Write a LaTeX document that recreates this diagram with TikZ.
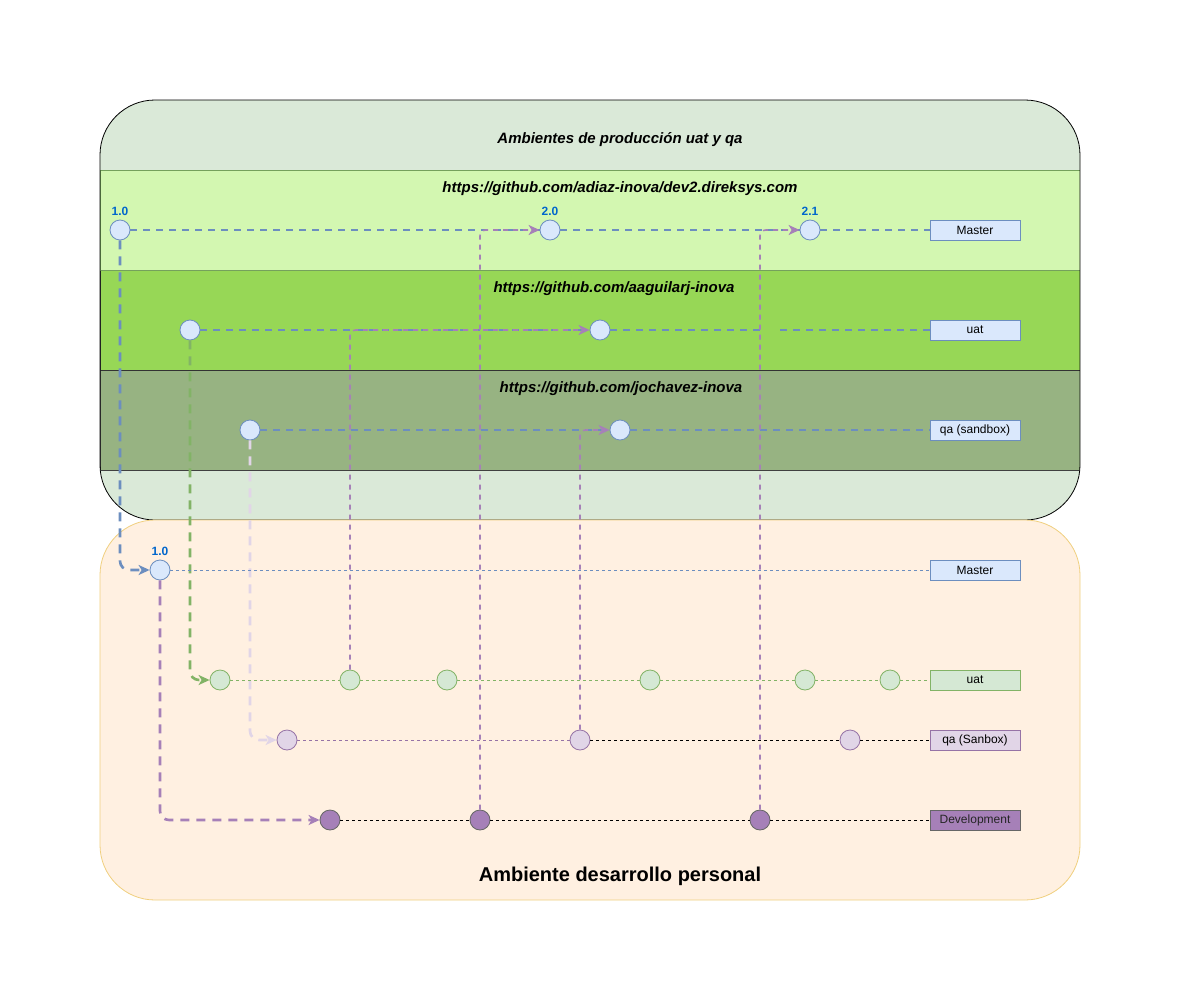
\documentclass[tikz,border=0pt]{standalone}
\usepackage{fontspec}
\setmainfont{Liberation Sans}
\usetikzlibrary{arrows.meta}
\definecolor{cTopF}{HTML}{DAE9D8}
\definecolor{cLaneA}{HTML}{D3F7B1}
\definecolor{cLaneB}{HTML}{97D756}
\definecolor{cLaneC}{HTML}{97B382}
\definecolor{cBotF}{HTML}{FFF0E1}
\definecolor{cBotD}{HTML}{F0CF7E}
\definecolor{cBlueF}{HTML}{DAE8FC}
\definecolor{cBlueD}{HTML}{6C8EBF}
\definecolor{cGreenF}{HTML}{D5E8D4}
\definecolor{cGreenD}{HTML}{82B366}
\definecolor{cPurF}{HTML}{E1D5E7}
\definecolor{cPurD}{HTML}{9673A6}
\definecolor{cPurM}{HTML}{A680B8}
\definecolor{cPurL}{HTML}{E1D5E7}
\definecolor{cVer}{HTML}{0066CC}
\begin{document}
\begin{tikzpicture}[x=1pt,y=-1pt,
  commitc/.style={circle,draw,minimum size=20pt,inner sep=0pt,line width=0.8pt},
  cblue/.style={commitc,fill=cBlueF,draw=cBlueD},
  cgreen/.style={commitc,fill=cGreenF,draw=cGreenD},
  cpur/.style={commitc,fill=cPurF,draw=cPurD},
  cdev/.style={commitc,fill=cPurM,draw=black!60},
  lbl/.style={font=\fontsize{12}{14}\selectfont,rectangle,minimum width=90pt,minimum height=20pt,inner sep=0pt,line width=1pt},
  ver/.style={font=\bfseries\fontsize{12}{14}\selectfont,text=cVer,inner sep=0pt},
  ttl/.style={font=\bfseries\itshape\fontsize{15}{17}\selectfont,inner sep=0pt},
  tip/.style={-{Stealth[length=11pt,width=10pt,inset=3pt]}},
  hblue/.style={draw=cBlueD,line width=2pt,dash pattern=on 7pt off 6pt},
  vthick/.style={line width=2.6pt,dash pattern=on 9pt off 7pt,rounded corners=9pt},
  vpur/.style={draw=cPurM,line width=1.6pt,dash pattern=on 5pt off 5pt,rounded corners=6pt},
  rowline/.style={line width=0.8pt,dash pattern=on 3pt off 3pt}
]
\useasboundingbox (0,0) rectangle (1181,1001);

% containers
\fill[cTopF,rounded corners=55pt] (100,100) rectangle (1080,520);
\begin{scope}
\clip[rounded corners=55pt] (100,100) rectangle (1080,520);
\filldraw[fill=cLaneC,draw=black!75,line width=0.8pt] (100,370) rectangle (1080,470);
\filldraw[fill=cLaneB,draw=black!80,line width=0.8pt] (100,270) rectangle (1080,370);
\filldraw[fill=cLaneA,draw=cGreenD!90!black,line width=0.8pt] (100,170) rectangle (1080,270);
\end{scope}
\draw[black,line width=0.8pt,rounded corners=55pt] (100,100) rectangle (1080,520);
\filldraw[fill=cBotF,draw=cBotD,line width=0.8pt,rounded corners=55pt] (100,520) rectangle (1080,900);

% titles
\node[ttl] (t0) at (620,140) {Ambientes de producción uat y qa};
\node[ttl] (t1) at (620,189) {https://github.com/adiaz-inova/dev2.direksys.com};
\node[ttl] (t2) at (614,289) {https://github.com/aaguilarj-inova};
\node[ttl] (t3) at (621,389) {https://github.com/jochavez-inova};
\node[font=\bfseries\fontsize{20}{23}\selectfont,inner sep=0pt] (t4) at (620,876) {Ambiente desarrollo personal};

% top nodes
\node[cblue] (A1) at (120,230) {};
\node[cblue] (A2) at (550,230) {};
\node[cblue] (A3) at (810,230) {};
\node[ver] (v1) at (120,211) {1.0};
\node[ver] (v2) at (550,211) {2.0};
\node[ver] (v3) at (810,211) {2.1};
\node[lbl,fill=cBlueF,draw=cBlueD] (M1) at (975,230) {Master};
\node[cblue] (B1) at (190,330) {};
\node[cblue] (B2) at (600,330) {};
\node[lbl,fill=cBlueF,draw=cBlueD] (U1) at (975,330) {uat};
\node[cblue] (C1) at (250,430) {};
\node[cblue] (C2) at (620,430) {};
\node[lbl,fill=cBlueF,draw=cBlueD] (Q1) at (975,430) {qa (sandbox)};

% bottom nodes
\node[cblue] (D1) at (160,570) {};
\node[ver] (v4) at (160,551) {1.0};
\node[lbl,fill=cBlueF,draw=cBlueD] (M2) at (975,570) {Master};
\node[cgreen] (E1) at (220,680) {};
\node[cgreen] (E2) at (350,680) {};
\node[cgreen] (E3) at (447,680) {};
\node[cgreen] (E4) at (650,680) {};
\node[cgreen] (E5) at (805,680) {};
\node[cgreen] (E6) at (890,680) {};
\node[lbl,fill=cGreenF,draw=cGreenD] (U2) at (975,680) {uat};
\node[cpur] (F1) at (287,740) {};
\node[cpur] (F2) at (580,740) {};
\node[cpur] (F3) at (850,740) {};
\node[lbl,fill=cPurF,draw=cPurD] (Q2) at (975,740) {qa (Sanbox)};
\node[cdev] (G1) at (330,820) {};
\node[cdev] (G2) at (480,820) {};
\node[cdev] (G3) at (760,820) {};
\node[lbl,fill=cPurM,draw=black!60,text=black!85] (DV) at (975,820) {Development};

\coordinate (gapL) at (760,330);
\coordinate (gapR) at (780,330);

% top horizontal blue lines
\draw[hblue] (A1) -- (A2);
\draw[hblue] (A2) -- (A3);
\draw[hblue] (A3) -- (M1);
\draw[hblue] (B1) -- (B2);
\draw[hblue] (B2) -- (gapL);
\draw[hblue] (gapR) -- (U1);
\draw[hblue] (C1) -- (C2);
\draw[hblue] (C2) -- (Q1);

% purple merges upward
\draw[vpur,tip] (G2) |- (A2);
\draw[vpur,tip] (G3) |- (A3);
\draw[vpur,tip] (E2) |- (B2);
\draw[vpur,tip] (F2) |- (C2);

% thick branches downward
\draw[vthick,draw=cBlueD,tip] (A1) |- (D1);
\draw[vthick,draw=cGreenD,tip] (B1) |- (E1);
\draw[vthick,draw=cPurL,tip] (C1) |- (F1);
\draw[vthick,draw=cPurM,tip] (D1) |- (G1);

% bottom rows
\draw[rowline,draw=cBlueD] (D1) -- (M2);
\draw[rowline,draw=cGreenD] (E1) -- (E2);
\draw[rowline,draw=cGreenD] (E2) -- (E3);
\draw[rowline,draw=cGreenD] (E3) -- (E4);
\draw[rowline,draw=cGreenD] (E4) -- (E5);
\draw[rowline,draw=cGreenD] (E5) -- (E6);
\draw[rowline,draw=cGreenD] (E6) -- (U2);
\draw[rowline,draw=cPurD] (F1) -- (F2);
\draw[rowline,draw=black] (F2) -- (F3);
\draw[rowline,draw=black] (F3) -- (Q2);
\draw[rowline,draw=black] (G1) -- (G2);
\draw[rowline,draw=black] (G2) -- (G3);
\draw[rowline,draw=black] (G3) -- (DV);
\end{tikzpicture}
\end{document}
